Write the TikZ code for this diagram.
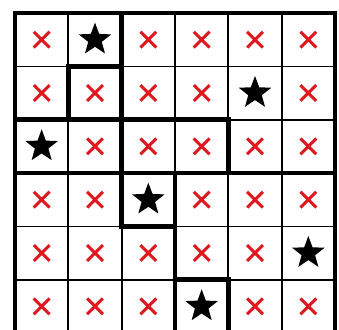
\documentclass[tikz,border=0pt]{standalone}
\usetikzlibrary{shapes.geometric,shapes.misc}
\definecolor{markred}{RGB}{222,24,30}
\begin{document}
\begin{tikzpicture}[thin line/.style={line width=0.9pt},thick line/.style={line width=2.4pt,line cap=rect},
cross mark/.style={cross out,draw=markred,line width=1.6pt,minimum size=0.24cm,inner sep=0pt},
star mark/.style={star,star points=5,star point ratio=2.4,fill=black,minimum size=0.64cm,inner sep=0pt}]
\useasboundingbox (-0.281,0.075) rectangle (6.075,6.244);
\draw[thin line] (0,0) grid (6,6);
\foreach \row/\starcol in {1/2,2/5,3/1,4/3,5/6,6/4}
  \foreach \col in {1,...,6}
  {
    \ifnum\col=\starcol
      \node[star mark] (m-\row-\col) at (\col-0.5,6.5-\row) {};
    \else
      \node[cross mark] (m-\row-\col) at (\col-0.5,6.5-\row) {};
    \fi
  }
\draw[thick line] (0,0) rectangle (6,6);
\draw[thick line] (1,4) -- (1,5) (2,2) -- (2,6) (3,0) -- (3,3) (4,3) -- (4,4) (4,0) -- (4,1);
\draw[thick line] (1,5) -- (2,5) (0,4) -- (4,4) (0,3) -- (6,3) (2,2) -- (3,2) (3,1) -- (4,1);
\end{tikzpicture}
\end{document}
